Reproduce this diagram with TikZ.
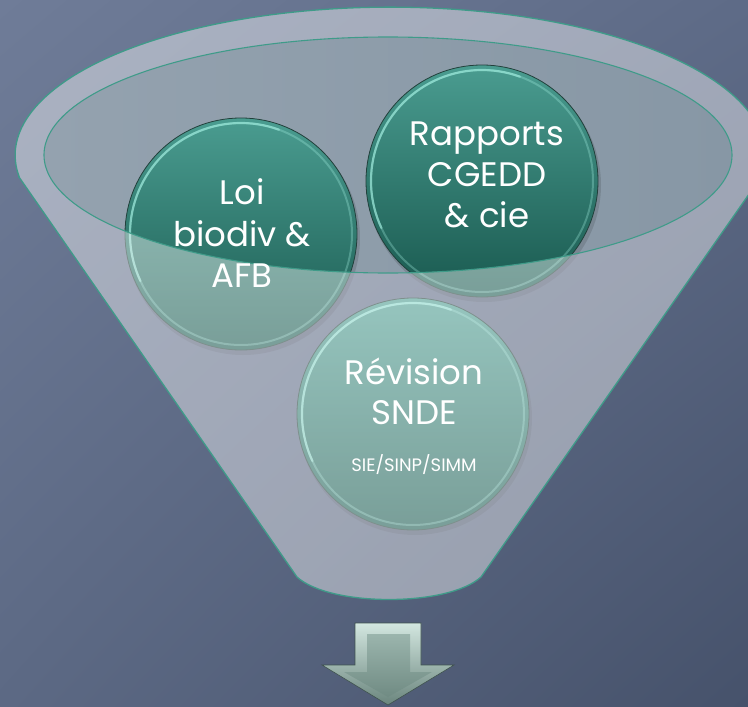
\documentclass[tikz,border=0pt]{standalone}
\usepackage{fontspec}
\setmainfont{Poppins}
\usetikzlibrary{shadings}
\begin{document}
\definecolor{bgUL}{HTML}{6F7C98}
\definecolor{bgUR}{HTML}{5E6B87}
\definecolor{bgLL}{HTML}{5C6984}
\definecolor{bgLR}{HTML}{46526B}
\definecolor{innerL}{HTML}{94A2AF}
\definecolor{innerR}{HTML}{8797A5}
\definecolor{rimline}{HTML}{3F9B89}
\definecolor{ballTop}{HTML}{4A9C90}
\definecolor{ballBot}{HTML}{19594F}
\definecolor{ballEdge}{HTML}{22403B}
\definecolor{ballGlow}{HTML}{A6F2E4}
\definecolor{arrTop}{HTML}{D3E7E0}
\definecolor{arrBot}{HTML}{6A857D}
\definecolor{arrInTop}{HTML}{9BB5AD}
\definecolor{arrInBot}{HTML}{708B83}
\definecolor{arrEdge}{HTML}{3F524D}
\begin{tikzpicture}[x=1pt,y=-1pt,
  lbl/.style={text=white, inner sep=0pt, anchor=base, font=\fontsize{34}{40}\selectfont},
  smalllbl/.style={text=white, inner sep=0pt, anchor=base, font=\fontsize{18}{22}\selectfont},
  ballshade/.style={top color=ballTop, bottom color=ballBot},
  ballring/.style={draw=ballGlow, draw opacity=0.3, line width=2pt},
  ballglow/.style={draw=ballGlow, draw opacity=0.55, line width=2.2pt, line cap=round},
  balledge/.style={draw=ballEdge, line width=0.8pt},
  ballshadow/.style={fill=black, fill opacity=0.12},
  tealline/.style={draw=rimline, line width=1.3pt}]
\useasboundingbox (0,0) rectangle (748,707);
% background
\shade[upper left=bgUL, upper right=bgUR, lower left=bgLL, lower right=bgLR] (0,0) rectangle (748,707);
% inner ellipse of the funnel mouth
\shade[left color=innerL, right color=innerR] (388,155) ellipse [x radius=344, y radius=118];
% circles
\coordinate (cL) at (241,234);
\coordinate (cR) at (482,181);
\coordinate (cS) at (413,414);
\foreach \c/\r in {cL/116, cR/116, cS/116}{
  \fill[ballshadow] ([shift={(2,4)}]\c) circle [radius=\r+1];
  \shade[ballshade] (\c) circle [radius=\r];
  \draw[ballring] (\c) circle [radius=\r-5];
  \draw[ballglow] (\c) ++(-205:\r-5) arc [start angle=-205, end angle=-70, radius=\r-5];
  \draw[balledge] (\c) circle [radius=\r];
}
% translucent body of the funnel (rim and cone)
\fill[white, fill opacity=0.42, even odd rule]
  (19,177) -- (297,577) .. controls (330,607) and (448,607) .. (481,577) -- (761,177)
  arc [start angle=8.5, end angle=-188.5, x radius=375, y radius=148] -- cycle
  (388,155) ellipse [x radius=344, y radius=118];
\draw[tealline]
  (19,177) -- (297,577) .. controls (330,607) and (448,607) .. (481,577) -- (761,177)
  arc [start angle=8.5, end angle=-188.5, x radius=375, y radius=148] -- cycle;
\draw[tealline, line width=1.1pt] (388,155) ellipse [x radius=344, y radius=118];
% texts
\node[lbl] (loi1) at (242,204) {Loi};
\node[lbl] (loi2) at (242,246) {biodiv \&};
\node[lbl] (loi3) at (242,287) {AFB};
\node[lbl] (rap1) at (487,145) {Rapports};
\node[lbl] (rap2) at (487,186) {CGEDD};
\node[lbl] (rap3) at (487,227) {\& cie};
\node[lbl] (rev1) at (414,384) {Révision};
\node[lbl] (rev2) at (414,424) {SNDE};
\node[smalllbl] (rev3) at (414,471) {SIE/SINP/SIMM};
% down arrow
\shade[top color=arrTop, bottom color=arrBot, draw=arrEdge, line width=0.6pt]
  (355,623) -- (421,623) -- (421,665) -- (454,665) -- (388,705) -- (322,665) -- (355,665) -- cycle;
\shade[top color=arrInTop, bottom color=arrInBot]
  (367,634) -- (410,634) -- (410,672) -- (432,672) -- (388,697) -- (344,672) -- (367,672) -- cycle;
\end{tikzpicture}
\end{document}
